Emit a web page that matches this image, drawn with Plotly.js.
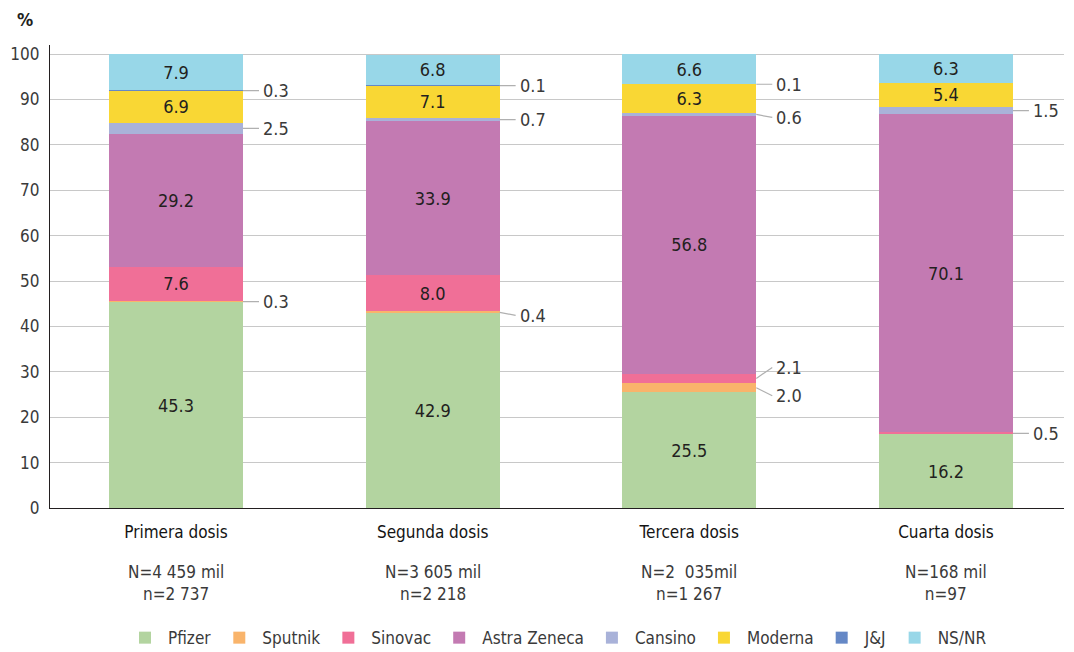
<!DOCTYPE html>
<html>
<head>
<meta charset="utf-8">
<script src="https://cdn.plot.ly/plotly-3.0.1.min.js"></script>
<style>html,body{margin:0;padding:0;background:#fff;}#chart{width:1074px;height:652px;}</style>
</head>
<body>
<div id="chart"></div>
<script>
const categories = ['Primera dosis', 'Segunda dosis', 'Tercera dosis', 'Cuarta dosis'];
const sampleLabels = ['N=4 459 mil<br>n=2 737', 'N=3 605 mil<br>n=2 218', 'N=2\u00a0 035mil<br>n=1 267', 'N=168 mil<br>n=97'];
const seriesNames = ['Pfizer', 'Sputnik', 'Sinovac', 'Astra Zeneca', 'Cansino', 'Moderna', 'J&J', 'NS/NR'];
const pfizer = [45.3, 42.9, 25.5, 16.2];
const sputnik = [0.3, 0.4, 2.0, 0];
const sinovac = [7.6, 8.0, 2.1, 0.5];
const astraZeneca = [29.2, 33.9, 56.8, 70.1];
const cansino = [2.5, 0.7, 0.6, 1.5];
const moderna = [6.9, 7.1, 6.3, 5.4];
const jj = [0.3, 0.1, 0.1, 0];
const nsnr = [7.9, 6.8, 6.6, 6.3];
const yTicks = [0, 10, 20, 30, 40, 50, 60, 70, 80, 90, 100];

const seriesValues = [pfizer, sputnik, sinovac, astraZeneca, cansino, moderna, jj, nsnr];
const colors = ['#b3d4a0', '#f9b46b', '#f06f97', '#c37ab2', '#a9b2d9', '#f9d734', '#6588c6', '#98d7e8'];
const FONT = '"Liberation Sans Narrow", "DejaVu Sans Condensed", "Arial Narrow", sans-serif';
const barWidth = 0.522;
const insideMin = 3;
// label offsets (px) for crowded outside labels: key = seriesIndex-categoryIndex
const labelShift = {'1-2': 8, '2-2': -11, '4-2': 3, '1-1': 3};

const traces = seriesValues.map((vals, s) => ({
  type: 'bar',
  name: seriesNames[s],
  x: categories,
  y: vals,
  width: barWidth,
  marker: {color: colors[s], line: {width: 0}},
  text: vals.map(v => v >= insideMin ? v.toFixed(1) : ''),
  textposition: 'inside',
  insidetextanchor: 'middle',
  constraintext: 'none',
  textfont: {family: FONT, size: 18, color: '#231f20'},
  hoverinfo: 'name+y'
}));

const annotations = [];
// outside labels for small segments
categories.forEach((c, ci) => {
  let base = 0;
  seriesValues.forEach((vals, s) => {
    const v = vals[ci];
    if (v > 0 && v < insideMin) {
      const key = s + '-' + ci;
      annotations.push({
        x: ci + barWidth / 2, y: base + v / 2, xref: 'x', yref: 'y',
        text: v.toFixed(1), showarrow: true, arrowhead: 0, arrowwidth: 1.2,
        arrowcolor: '#b0b0b0', ax: 16, ay: labelShift[key] || 0,
        xanchor: 'left', borderpad: 3,
        font: {family: FONT, size: 18, color: '#3a3a3a'}
      });
    }
    base += v;
  });
});
// sample size labels
categories.forEach((c, ci) => {
  annotations.push({
    x: ci, xref: 'x', y: -0.112, yref: 'paper', yanchor: 'top',
    text: sampleLabels[ci], showarrow: false,
    font: {family: FONT, size: 17, color: '#3a3a3a'}
  });
});
annotations.push({
  x: -0.025, xref: 'paper', y: 1.056, yref: 'paper', xanchor: 'center', yanchor: 'middle',
  text: '<b>%</b>', showarrow: false, font: {family: FONT, size: 18, color: '#231f20'}
});

const layout = {
  width: 1074, height: 652,
  margin: {l: 50, r: 10, t: 45, b: 144, autoexpand: false},
  paper_bgcolor: '#ffffff', plot_bgcolor: '#ffffff',
  barmode: 'stack',
  font: {family: FONT, size: 17, color: '#3a3a3a'},
  xaxis: {
    type: 'category', range: [-0.491, 3.46],
    tickvals: categories, ticktext: categories,
    showgrid: false, showline: true, linecolor: '#231f20', linewidth: 1.2,
    ticks: '', zeroline: false, fixedrange: true, ticklabelstandoff: 8,
    tickfont: {family: FONT, size: 17, color: '#141414'}
  },
  yaxis: {
    range: [0, 102], tickvals: yTicks, ticktext: yTicks.map(String),
    showgrid: true, gridcolor: '#c8c8c8', gridwidth: 1,
    showline: true, linecolor: '#231f20', linewidth: 1.2,
    ticks: '', zeroline: false, ticklabelstandoff: 6,
    tickfont: {family: FONT, size: 17, color: '#3a3a3a'}
  },
  legend: {
    orientation: 'h', x: 0.5, xanchor: 'center', y: -0.281, yanchor: 'middle',
    traceorder: 'normal', itemwidth: 36, font: {family: FONT, size: 17, color: '#3a3a3a'},
    itemclick: false, itemdoubleclick: false
  },
  showlegend: true,
  annotations: annotations
};

Plotly.newPlot('chart', traces, layout, {displayModeBar: false, staticPlot: true});
</script>
</body>
</html>
